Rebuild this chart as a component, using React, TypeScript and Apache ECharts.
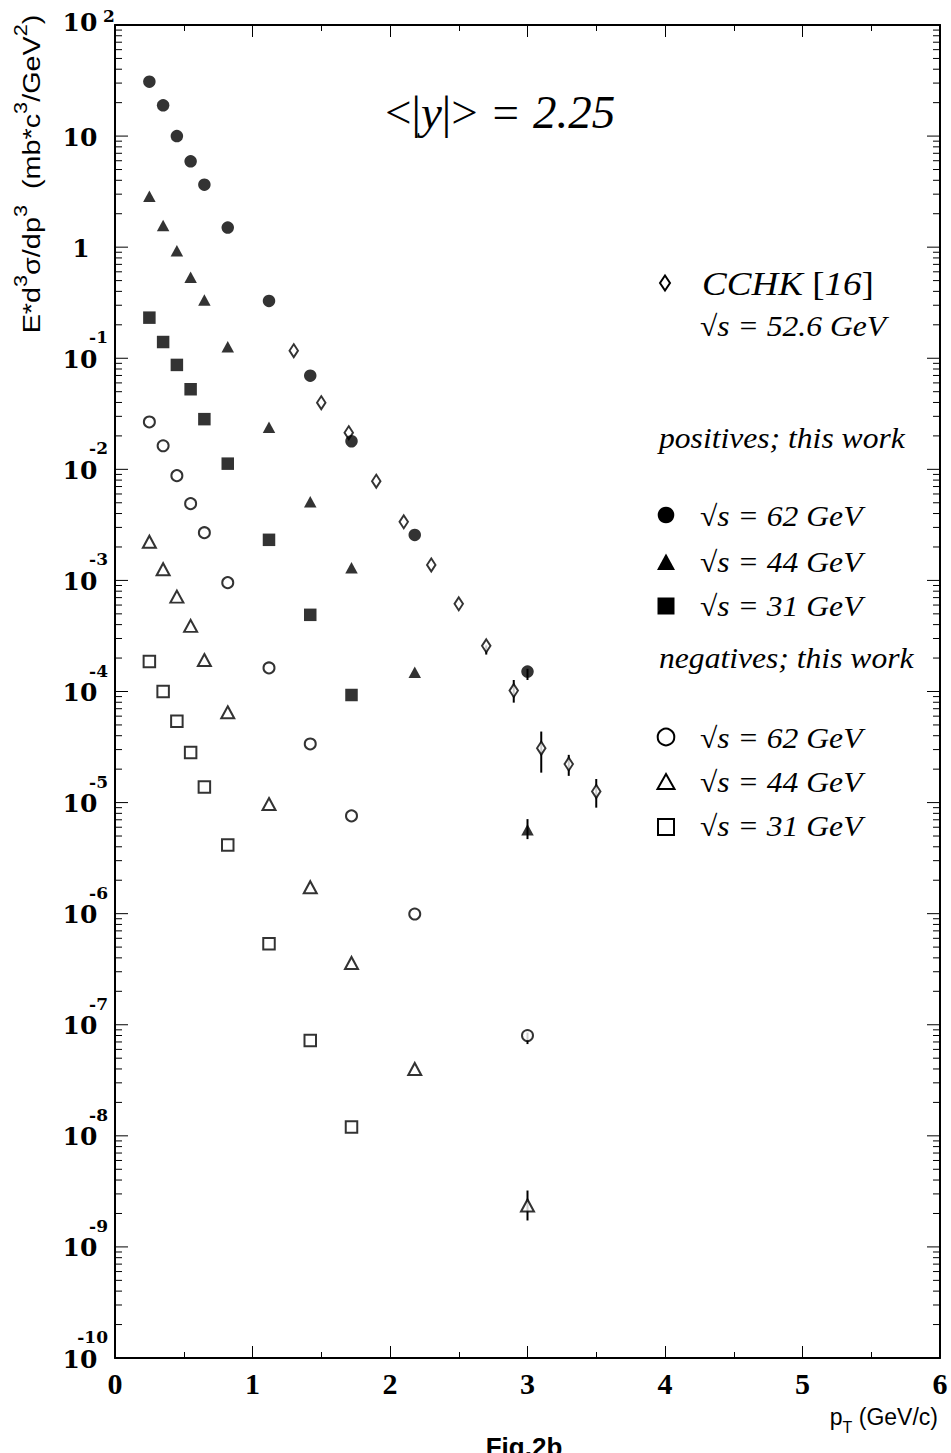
import React, { useEffect, useRef } from "react";
import * as echarts from "echarts";

// ---- data ----
const PT_BINS = [0.25, 0.35, 0.45, 0.55, 0.65, 0.82, 1.12, 1.42, 1.72, 2.18, 3.0];
const POS_62 = [30.9, 18.9, 10.0, 5.93, 3.65, 1.5, 0.328, 0.0697, 0.0179, 0.00257, 1.51e-4];
const POS_44 = [2.88, 1.57, 0.929, 0.536, 0.335, 0.127, 0.0239, 0.00512, 0.0013, 1.49e-4, 5.68e-6];
const POS_31 = [0.232, 0.14, 0.0871, 0.0526, 0.0283, 0.01125, 0.00232, 4.9e-4, 9.3e-5];
const NEG_62 = [0.0267, 0.0163, 0.00877, 0.00491, 0.00269, 9.55e-4, 1.63e-4, 3.37e-5, 7.59e-6, 9.93e-7, 8.0e-8];
const NEG_44 = [0.00223, 0.00126, 7.15e-4, 3.9e-4, 1.92e-4, 6.5e-5, 9.7e-6, 1.73e-6, 3.6e-7, 4.0e-8, 2.36e-9];
const NEG_31 = [1.86e-4, 9.98e-5, 5.4e-5, 2.82e-5, 1.38e-5, 4.16e-6, 5.35e-7, 7.2e-8, 1.2e-8];
const CCHK_PT = [1.3, 1.5, 1.7, 1.9, 2.1, 2.3, 2.5, 2.7, 2.9, 3.1, 3.3, 3.5];
const CCHK = [0.117, 0.0398, 0.0214, 0.00782, 0.00337, 0.00138, 6.15e-4, 2.58e-4, 1.02e-4, 3.09e-5, 2.22e-5, 1.26e-5];
// [pT, low, high]
const ERR_BARS = [
  [2.7, 2.15e-4, 2.6e-4],
  [2.9, 7.94e-5, 1.27e-4],
  [3.1, 1.86e-5, 4.36e-5],
  [3.3, 1.74e-5, 2.69e-5],
  [3.5, 9.0e-6, 1.63e-5],
  [3.0, 1.27e-4, 1.6e-4],
  [3.0, 4.69e-6, 7.1e-6],
  [3.0, 6.7e-8, 8.5e-8],
  [3.0, 1.73e-9, 3.22e-9],
];
const Y_EXPONENTS = [-10, -9, -8, -7, -6, -5, -4, -3, -2, -1, 0, 1, 2];
const MINOR_MANTISSAS = [2, 3, 4, 5, 6, 7, 8, 9];
const X_MIN = 0;
const X_MAX = 6;
const Y_MIN = 1e-10;
const Y_MAX = 100;

const zip = (xs: number[], ys: number[]) => ys.map((y, i) => [xs[i], y]);

const SERIF = "Liberation Serif";
const SANS = "Liberation Sans";
const TICKFONT = "DejaVu Serif";

export default function App() {
  const ref = useRef<HTMLDivElement>(null);
  useEffect(() => {
    document.body.style.margin = "0";
    const chart = echarts.init(ref.current!, null, { renderer: "svg" });

    const minorData: number[][] = [];
    Y_EXPONENTS.slice(0, -1).forEach((n) => {
      MINOR_MANTISSAS.forEach((m) => minorData.push([0, m * Math.pow(10, n)]));
    });

    const openStyle = { color: "#fff", borderColor: "#000", borderWidth: 2 };
    const fillStyle = { color: "#000" };

    const it = (s: string) => `{i|${s}}`;
    const richLegend = {
      i: { fontFamily: SERIF, fontStyle: "italic", fontSize: 29, fill: "#000" },
      n: { fontFamily: SERIF, fontSize: 29, fill: "#000" },
    } as any;

    const legendText = (x: number, y: number, text: string, rich = richLegend, scaleX = 1.09) => ({
      type: "text",
      x,
      y,
      scaleX,
      style: { text, rich, align: "left", verticalAlign: "middle", fill: "#000" },
      silent: true,
    });

    const option: any = {
      animation: false,
      backgroundColor: "#fff",
      grid: { left: 115, right: 11, top: 25, bottom: 95, containLabel: false },
      xAxis: [
        {
          type: "value",
          min: X_MIN,
          max: X_MAX,
          interval: 1,
          position: "bottom",
          axisLine: { show: true, onZero: false, lineStyle: { color: "#000", width: 2 } },
          axisTick: { show: true, inside: true, length: 12, lineStyle: { color: "#000", width: 1 } },
          minorTick: { show: true, splitNumber: 2, length: 6, lineStyle: { color: "#000", width: 1 } },
          axisLabel: {
            show: true,
            margin: 10,
            color: "#000",
            fontFamily: SERIF,
            fontWeight: "bold",
            fontSize: 30,
          },
          splitLine: { show: false },
        },
        {
          type: "value",
          min: X_MIN,
          max: X_MAX,
          interval: 1,
          position: "top",
          axisLine: { show: true, onZero: false, lineStyle: { color: "#000", width: 2 } },
          axisTick: { show: true, inside: true, length: 12, lineStyle: { color: "#000", width: 1 } },
          minorTick: { show: true, splitNumber: 2, length: 6, lineStyle: { color: "#000", width: 1 } },
          axisLabel: { show: false },
          splitLine: { show: false },
        },
      ],
      yAxis: [
        {
          type: "log",
          logBase: 10,
          min: Y_MIN,
          max: Y_MAX,
          position: "left",
          axisLine: { show: true, onZero: false, lineStyle: { color: "#000", width: 2 } },
          axisTick: { show: false },
          axisLabel: { show: false },
          splitLine: { show: false },
        },
        {
          type: "log",
          logBase: 10,
          min: Y_MIN,
          max: Y_MAX,
          position: "right",
          axisLine: { show: true, onZero: false, lineStyle: { color: "#000", width: 2 } },
          axisTick: { show: false },
          axisLabel: { show: false },
          splitLine: { show: false },
        },
      ],
      series: [
        {
          name: "minorTicks",
          type: "custom",
          clip: false,
          silent: true,
          data: minorData,
          renderItem: (params: any, api: any) => {
            const v = api.value(1);
            const l = api.coord([X_MIN, v]);
            const r = api.coord([X_MAX, v]);
            const ls = { stroke: "#000", lineWidth: 1 };
            return {
              type: "group",
              children: [
                { type: "line", shape: { x1: l[0], y1: l[1], x2: l[0] + 7, y2: l[1] }, style: ls },
                { type: "line", shape: { x1: r[0] - 7, y1: r[1], x2: r[0], y2: r[1] }, style: ls },
              ],
            };
          },
        },
        {
          name: "majorTicks",
          type: "custom",
          clip: false,
          silent: true,
          data: Y_EXPONENTS.map((n) => [0, Math.pow(10, n), n]),
          renderItem: (params: any, api: any) => {
            const v = api.value(1);
            const n = api.value(2);
            const l = api.coord([X_MIN, v]);
            const r = api.coord([X_MAX, v]);
            const ls = { stroke: "#000", lineWidth: 1 };
            const children: any[] = [
              { type: "line", shape: { x1: l[0], y1: l[1], x2: l[0] + 13, y2: l[1] }, style: ls },
              { type: "line", shape: { x1: r[0] - 13, y1: r[1], x2: r[0], y2: r[1] }, style: ls },
            ];
            const base = (text: string, x: number, y: number) => ({
              type: "text",
              x,
              y,
              style: {
                text,
                fill: "#000",
                fontFamily: TICKFONT,
                fontWeight: "bold",
                fontSize: 25,
                align: "center",
                verticalAlign: "middle",
              },
            });
            const sup = (text: string, x: number, y: number, align: string) => ({
              type: "text",
              x,
              y,
              style: {
                text,
                fill: "#000",
                fontFamily: TICKFONT,
                fontWeight: "bold",
                fontSize: 17,
                align,
                verticalAlign: "middle",
              },
            });
            const cx = l[0] - 35;
            if (n === 2) {
              children.push(base("10", cx, l[1] - 3));
              children.push(sup("2", l[0] - 12, l[1] - 9, "left"));
            } else if (n === 1) {
              children.push(base("10", cx, l[1] + 1));
            } else if (n === 0) {
              children.push(base("1", cx + 1, l[1] + 1));
            } else {
              children.push(base("10", cx, l[1] + 1));
              children.push(sup(String(n), l[0] - 7, l[1] - 21, "right"));
            }
            return { type: "group", children };
          },
        },
        {
          name: "errors",
          type: "custom",
          clip: false,
          silent: true,
          data: ERR_BARS,
          renderItem: (params: any, api: any) => {
            const a = api.coord([api.value(0), api.value(1)]);
            const b = api.coord([api.value(0), api.value(2)]);
            return {
              type: "line",
              shape: { x1: a[0], y1: a[1], x2: b[0], y2: b[1] },
              style: { stroke: "#000", lineWidth: 2 },
            };
          },
        },
        {
          name: "CCHK [16] √s = 52.6 GeV",
          type: "scatter",
          data: zip(CCHK_PT, CCHK),
          symbol: "diamond",
          symbolSize: [8.5, 13],
          itemStyle: openStyle,
        },
        { name: "pos √s = 62 GeV", type: "scatter", data: zip(PT_BINS, POS_62), symbol: "circle", symbolSize: 12.5, itemStyle: fillStyle },
        { name: "pos √s = 44 GeV", type: "scatter", data: zip(PT_BINS, POS_44), symbol: "triangle", symbolSize: [12.5, 11.5], itemStyle: fillStyle },
        { name: "pos √s = 31 GeV", type: "scatter", data: zip(PT_BINS, POS_31), symbol: "rect", symbolSize: 12.5, itemStyle: fillStyle },
        { name: "neg √s = 62 GeV", type: "scatter", data: zip(PT_BINS, NEG_62), symbol: "circle", symbolSize: 11, itemStyle: openStyle },
        { name: "neg √s = 44 GeV", type: "scatter", data: zip(PT_BINS, NEG_44), symbol: "triangle", symbolSize: [13, 12], itemStyle: openStyle },
        { name: "neg √s = 31 GeV", type: "scatter", data: zip(PT_BINS, NEG_31), symbol: "rect", symbolSize: 11.5, itemStyle: openStyle },
      ],
      graphic: [
        // title
        {
          type: "text",
          x: 385,
          y: 112,
          style: {
            text: "{n|<|}{i|y}{n||>}{i| = 2.25}",
            rich: {
              n: { fontFamily: SERIF, fontSize: 47, fill: "#000" },
              i: { fontFamily: SERIF, fontStyle: "italic", fontSize: 47, fill: "#000" },
            },
            align: "left",
            verticalAlign: "middle",
          },
          silent: true,
        },
        // y axis name
        {
          type: "text",
          x: 28,
          y: 174,
          rotation: Math.PI / 2,
          scaleX: 1.2,
          style: {
            text: "{m|E*d}{s|3}{m|σ/dp}{s|3}{m|  (mb*c}{s|3}{m|/GeV}{s|2}{m|)}",
            rich: {
              m: { fontFamily: SANS, fontSize: 24, lineHeight: 32, verticalAlign: "bottom", fill: "#000" },
              s: { fontFamily: SANS, fontSize: 18, lineHeight: 18, verticalAlign: "top", fill: "#000" },
            },
            align: "center",
            verticalAlign: "middle",
          },
          silent: true,
        },
        // x axis name
        {
          type: "text",
          x: 938,
          y: 1420,
          style: {
            text: "{m|p}{s|T}{m| (GeV/c)}",
            rich: {
              m: { fontFamily: SANS, fontSize: 23, lineHeight: 30, verticalAlign: "top", fill: "#000" },
              s: { fontFamily: SANS, fontSize: 16, lineHeight: 16, verticalAlign: "bottom", fill: "#000" },
            },
            align: "right",
            verticalAlign: "middle",
          },
          silent: true,
        },
        {
          type: "text",
          x: 524,
          y: 1447,
          style: {
            text: "Fig.2b",
            fontFamily: SANS,
            fontWeight: "bold",
            fontSize: 26,
            fill: "#000",
            align: "center",
            verticalAlign: "middle",
          },
          silent: true,
        },
        // legend markers
        {
          type: "polygon",
          shape: { points: [[665, 275.5], [670, 283], [665, 290.5], [660, 283]] },
          style: { fill: "#fff", stroke: "#000", lineWidth: 2 },
          silent: true,
        },
        { type: "circle", shape: { cx: 666, cy: 515, r: 8.3 }, style: { fill: "#000" }, silent: true },
        {
          type: "polygon",
          shape: { points: [[666, 553.5], [675, 570], [657, 570]] },
          style: { fill: "#000" },
          silent: true,
        },
        { type: "rect", shape: { x: 657.5, y: 597.5, width: 17, height: 17 }, style: { fill: "#000" }, silent: true },
        {
          type: "circle",
          shape: { cx: 666, cy: 737, r: 8.3 },
          style: { fill: "#fff", stroke: "#000", lineWidth: 2 },
          silent: true,
        },
        {
          type: "polygon",
          shape: { points: [[666, 774], [674.5, 789], [657.5, 789]] },
          style: { fill: "#fff", stroke: "#000", lineWidth: 2 },
          silent: true,
        },
        {
          type: "rect",
          shape: { x: 658, y: 819, width: 16, height: 16 },
          style: { fill: "#fff", stroke: "#000", lineWidth: 2 },
          silent: true,
        },
        // legend texts
        legendText(702, 284, `${it("CCHK")}{n| [}${it("16")}{n|]}`, {
          i: { fontFamily: SERIF, fontStyle: "italic", fontSize: 34, fill: "#000" },
          n: { fontFamily: SERIF, fontSize: 34, fill: "#000" },
        } as any),
        legendText(700, 326, `{n|√}${it("s = 52.6 GeV")}`),
        legendText(659, 438, it("positives; this work")),
        legendText(700, 516, `{n|√}${it("s = 62 GeV")}`),
        legendText(700, 562, `{n|√}${it("s = 44 GeV")}`),
        legendText(700, 606, `{n|√}${it("s = 31 GeV")}`),
        legendText(659, 658, it("negatives; this work")),
        legendText(700, 738, `{n|√}${it("s = 62 GeV")}`),
        legendText(700, 782, `{n|√}${it("s = 44 GeV")}`),
        legendText(700, 826, `{n|√}${it("s = 31 GeV")}`),
      ],
    };

    chart.setOption(option);
    return () => chart.dispose();
  }, []);

  return <div ref={ref} style={{ width: 951, height: 1453, background: "#fff" }} />;
}
